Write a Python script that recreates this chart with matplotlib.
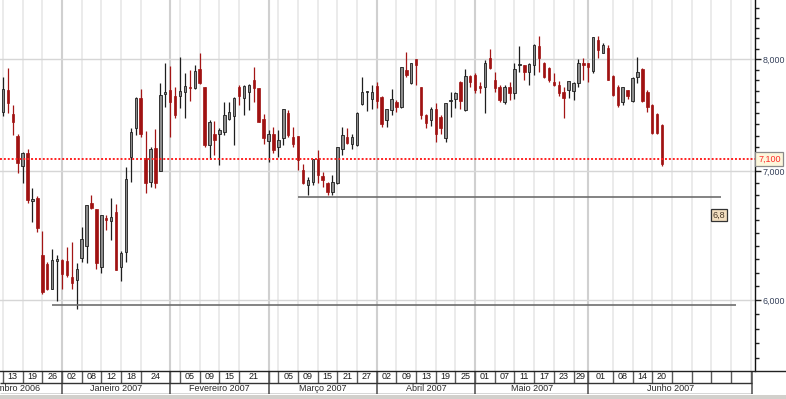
import numpy as np
import matplotlib.pyplot as plt
from matplotlib.ticker import FixedLocator, NullFormatter, FuncFormatter
from matplotlib.lines import Line2D
from matplotlib.patches import Rectangle
import matplotlib.transforms as mtransforms

plt.rcParams['font.family'] = ['Liberation Sans', 'DejaVu Sans']

# daily candles, one per trading day starting 13 Dec 2006 (index 0)
opens = [7510, 7709, 7492, 7297, 7040, 7148, 6757, 6776, 6332, 6268,
         6085, 6290, 6294, 6290, 6166, 6146, 6310, 6400, 6735, 6687,
         6245, 6615, 6597, 6663, 6245, 6356, 7120, 7365, 7640, 7108,
         6910, 7194, 6997, 7670, 7709, 7654, 7654, 7693, 7740, 7724,
         7902, 7740, 7219, 7320, 7315, 7330, 7445, 7474, 7740, 7640,
         7690, 7802, 7724, 7445, 7257, 7320, 7205, 7277, 7503, 7290,
         7297, 7008, 6884, 6911, 7097, 6955, 6903, 6823, 6903, 7182,
         7290, 7227, 7219, 7582, 7688, 7627, 7746, 7650, 7438, 7527,
         7600, 7555, 7896, 7775, 7997, 7740, 7483, 7438, 7533, 7468,
         7277, 7606, 7627, 7785, 7527, 7840, 7849, 7746, 7733, 8010,
         7802, 7740, 7600, 7740, 7685, 7940, 7943, 7880, 7943, 8124,
         7960, 7912, 7785, 7756, 7693, 7709, 7700, 7770, 7960, 7960,
         7887, 8183, 8060, 8102, 7835, 7740, 7597, 7709, 7612, 7827,
         7905, 7693, 7573, 7490, 7394]
highs = [7830, 7912, 7573, 7320, 7162, 7182, 6857, 6795, 6516, 6280,
         6375, 6332, 6300, 6395, 6433, 6274, 6550, 6722, 6803, 6687,
         6642, 6642, 6782, 6730, 6365, 7030, 7365, 7650, 7716, 7340,
         7200, 7360, 7777, 7965, 7933, 7740, 8022, 7865, 7896, 7943,
         8055, 7740, 7438, 7432, 7365, 7600, 7600, 7650, 7756, 7756,
         7765, 7927, 7724, 7492, 7350, 7373, 7350, 7533, 7527, 7380,
         7297, 7057, 6952, 7097, 7176, 6995, 6911, 6970, 7205, 7373,
         7365, 7320, 7513, 7827, 7703, 7756, 7785, 7654, 7533, 7716,
         7618, 7920, 8070, 7960, 7997, 7740, 7492, 7551, 7588, 7483,
         7594, 7690, 7690, 7793, 7903, 7849, 7865, 7785, 7990, 8100,
         7880, 7756, 7756, 7785, 7965, 8122, 7943, 7960, 8144, 8225,
         7975, 7927, 7865, 7793, 7740, 7793, 7780, 7997, 8005, 7965,
         8215, 8225, 8157, 8134, 7849, 7756, 7740, 7709, 7827, 8022,
         7918, 7709, 7580, 7498, 7400]
lows = [7470, 7498, 7306, 6986, 6903, 6740, 6590, 6512, 6045, 6073,
        6080, 5995, 6080, 6170, 6080, 5940, 6280, 6274, 6690, 6225,
        6195, 6524, 6446, 6220, 6140, 6280, 6910, 7306, 7290, 6817,
        6870, 6857, 6997, 7555, 7290, 7453, 7545, 7453, 7612, 7716,
        7768, 7205, 7100, 7133, 7049, 7306, 7438, 7219, 7573, 7483,
        7527, 7600, 7423, 7227, 7077, 7153, 7114, 7219, 7290, 7205,
        7008, 6892, 6803, 6884, 6898, 6870, 6803, 6803, 6892, 7133,
        7233, 7190, 7210, 7573, 7521, 7533, 7545, 7373, 7373, 7483,
        7513, 7545, 7827, 7765, 7756, 7445, 7365, 7387, 7247, 7320,
        7247, 7468, 7545, 7533, 7521, 7740, 7685, 7685, 7498, 7905,
        7693, 7600, 7582, 7618, 7627, 7880, 7802, 7756, 7849, 7880,
        7818, 7785, 7746, 7654, 7453, 7633, 7618, 7740, 7802, 7785,
        7865, 8010, 8055, 7802, 7654, 7557, 7573, 7627, 7600, 7770,
        7600, 7507, 7312, 7320, 7044]
closes = [7715, 7588, 7423, 7063, 7148, 6760, 6768, 6540, 6062, 6080,
          6294, 6300, 6190, 6183, 6126, 6225, 6452, 6722, 6695, 6270,
          6642, 6602, 6628, 6220, 6350, 6930, 7335, 7640, 7320, 6897,
          7190, 6897, 7664, 7690, 7600, 7483, 7700, 7746, 7724, 7890,
          7775, 7219, 7423, 7262, 7350, 7483, 7508, 7640, 7654, 7750,
          7760, 7724, 7423, 7277, 7315, 7176, 7262, 7533, 7306, 7227,
          7091, 6903, 6925, 7097, 6966, 6925, 6830, 6911, 7200, 7306,
          7240, 7290, 7498, 7690, 7690, 7690, 7612, 7403, 7533, 7624,
          7555, 7920, 7849, 7960, 7943, 7483, 7410, 7533, 7320, 7365,
          7588, 7612, 7685, 7612, 7840, 7785, 7709, 7724, 7960, 7912,
          7724, 7618, 7740, 7685, 7903, 7948, 7880, 7950, 8134, 8005,
          7827, 7802, 7756, 7685, 7633, 7793, 7770, 7960, 7940, 7922,
          8210, 8086, 8134, 7802, 7660, 7573, 7733, 7657, 7818, 7880,
          7606, 7553, 7325, 7325, 7055]

# date axis: trading-day index where each labelled cell starts
cell_starts = [0, 4, 8, 12, 16, 20, 24, 28, 34, 36, 40, 44, 48, 54, 56, 60, 64,
               68, 72, 76, 80, 84, 88, 92, 96, 100, 104, 108, 112, 116, 119,
               124, 128, 132, 136, 140, 144, 148, 152]
cell_labels = ['13', '19', '26', '02', '08', '12', '18', '24', '', '05', '09',
               '15', '21', '', '05', '09', '15', '21', '27', '02', '09', '13',
               '19', '25', '01', '07', '11', '17', '23', '29', '01', '08', '14',
               '20', '', '', '', '']
month_starts = [-10, 12, 34, 54, 76, 96, 119, 152.3]
month_names = ['Dezembro 2006', 'Janeiro 2007', 'Fevereiro 2007', 'Março 2007',
               'Abril 2007', 'Maio 2007', 'Junho 2007']

last_price = 7100
support_levels = [6785, 5970]
support_start = [60, 10]
support_end = [146, 149]

W, H = 786, 399
fig = plt.figure(figsize=(W / 100, H / 100), dpi=100)
ax = fig.add_axes([0, (H - 371) / H, 755 / W, 371 / H])
axd = fig.add_axes([0, 5 / H, 755 / W, 23 / H], sharex=ax)

o = np.array(opens, float)
h = np.array(highs, float)
l = np.array(lows, float)
c = np.array(closes, float)
x = np.arange(len(o))
up = c >= o

# grid
for xs in cell_starts:
    ax.axvline(xs, color='#e6e6e6', lw=1.1, zorder=0)
for xs in month_starts[1:-1]:
    ax.axvline(xs, color='#d0d0d0', lw=1.5, zorder=0)
for v in [6000, 7000, 8000]:
    ax.axhline(v, color='#d6d6d6', lw=1.0, zorder=0)

# candles
ax.vlines(x[up], l[up], h[up], color='#1e1e1e', lw=0.9, zorder=2)
ax.vlines(x[~up], l[~up], h[~up], color='#a31515', lw=0.9, zorder=2)
body_up = np.maximum(c[up] - o[up], o[up] * 0.0015)
body_dn = np.maximum(o[~up] - c[~up], o[~up] * 0.0015)
ax.bar(x[up], body_up, bottom=o[up], width=0.5, facecolor='#8c8c8c',
       edgecolor='#1e1e1e', lw=0.6, zorder=3)
ax.bar(x[~up], body_dn, bottom=c[~up], width=0.5, facecolor='#a01212',
       edgecolor='#a01212', lw=0.5, zorder=3)

# support lines and last price
for lvl, s, e in zip(support_levels, support_start, support_end):
    ax.hlines(lvl, s, e, color='#6e6e6e', lw=1.2, zorder=4)
ax.axhline(last_price, color='#ff2020', lw=1.4, ls=(0, (1, 1)), zorder=4)

trans = mtransforms.blended_transform_factory(ax.transAxes, ax.transData)
ax.text(1.004, last_price, f'{last_price:,}', transform=trans, ha='left',
        va='center', fontsize=6.5, color='#ff2a2a', clip_on=False, zorder=6,
        bbox=dict(boxstyle='square,pad=0.28', fc='#fdf7dc', ec='#8a8a8a', lw=0.9))
ax.text(145.6, 6640, '6,8', ha='center', va='center', fontsize=6.5,
        color='#4a3a2a', zorder=6,
        bbox=dict(boxstyle='square,pad=0.15', fc='#f3dfc0', ec='#333333', lw=0.9))

# axes and scales
ax.set_yscale('log')
ax.set_ylim(5515, 8583)
ax.set_xlim(-0.6, 152.9)
ax.yaxis.set_major_locator(FixedLocator([6000, 7000, 8000]))
ax.yaxis.set_major_formatter(FuncFormatter(lambda v, p: f'{v:,.0f}'))
ax.yaxis.set_minor_locator(FixedLocator([v for v in range(5600, 8600, 100) if v % 1000]))
ax.yaxis.set_minor_formatter(NullFormatter())
ax.yaxis.tick_right()
ax.tick_params(axis='y', which='major', length=4, width=1, color='#222222',
               labelsize=6.4, labelcolor='#35405a', pad=1.5)
ax.tick_params(axis='y', which='minor', length=3, width=1, color='#222222')
ax.tick_params(axis='x', bottom=False, labelbottom=False)
for side in ['top', 'left', 'bottom']:
    ax.spines[side].set_visible(False)
ax.spines['right'].set_color('#111111')
ax.spines['right'].set_linewidth(1.0)

# date rows
axd.set_ylim(0, 1)
axd.axis('off')
mid = 0.48
for xs, nxt, lab in zip(cell_starts[:-1], cell_starts[1:], cell_labels):
    axd.text((xs + nxt) / 2, 0.75, lab, ha='center', va='center', fontsize=6.5,
             color='#1a1a1a')
axd.vlines(cell_starts, mid, 1, color='#5a5a5a', lw=1.0)
axd.vlines(month_starts[1:], 0, 1, color='#5a5a5a', lw=1.2)
for ms, me, name in zip(month_starts[:-1], month_starts[1:], month_names):
    axd.text((ms + me) / 2, 0.22, name, ha='center', va='center', fontsize=6.5,
             color='#2a2a2a', clip_on=True)
axd.hlines([mid, 0.0], -0.6, 152.3, color='#333333', lw=1.0)

fig.add_artist(Line2D([0, 1], [(H - 371) / H] * 2, color='#222222', lw=1.0))
fig.add_artist(Rectangle((0, 0), 1, 4 / H, transform=fig.transFigure,
                         facecolor='#d2d0cc', edgecolor='none'))

fig.savefig('out.png', dpi=100)
